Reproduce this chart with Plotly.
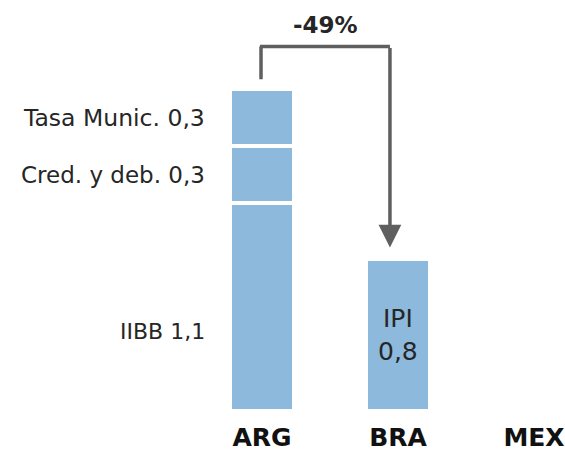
import plotly.graph_objects as go

# ---- data ----
categories = ["ARG", "BRA", "MEX"]
iibb = [1.1, None, None]
cred_deb = [0.3, None, None]
tasa_munic = [0.3, None, None]
ipi = [None, 0.8, None]
seg_labels = ["IIBB 1,1", "Cred. y deb. 0,3", "Tasa Munic. 0,3"]
ipi_label = "IPI<br>0,8"
change_label = "-49%"

BAR = "#8DB9DC"
TXT = "#262626"
LINE = "#5f5f5f"
FONT = "DejaVu Sans"

fig = go.Figure()
for vals in [iibb, cred_deb, tasa_munic, ipi]:
    fig.add_trace(go.Bar(
        x=categories, y=vals, width=0.467,
        marker=dict(color=BAR, line=dict(color="white", width=3.5)),
        hoverinfo="skip", showlegend=False,
    ))

# left-side segment labels (ARG)
arg_bases = [0, iibb[0], iibb[0] + cred_deb[0]]
arg_vals = [iibb[0], cred_deb[0], tasa_munic[0]]
offsets = [-0.13, 0.0, 0.0]
sizes = [22, 23, 23.5]
for lab, b, v, off, s in zip(seg_labels, arg_bases, arg_vals, offsets, sizes):
    fig.add_annotation(x=-0.404, y=b + v / 2 + off, xref="x", yref="y",
                       text=lab, showarrow=False, xanchor="right", yanchor="middle",
                       font=dict(family=FONT, size=s, color=TXT))

# IPI label inside BRA bar
fig.add_annotation(x=1, y=ipi[1] / 2, xref="x", yref="y", text=ipi_label,
                   showarrow=False, xanchor="center", yanchor="middle",
                   font=dict(family=FONT, size=25, color=TXT))

# bracket + arrow
arg_top = sum(arg_vals)
y_top = 1.927
x_left = -0.007
x_right = 0.941
fig.add_shape(type="line", xref="x", yref="y", x0=x_left, x1=x_left,
              y0=arg_top + 0.054, y1=y_top, line=dict(color=LINE, width=3.5))
fig.add_shape(type="line", xref="x", yref="y", x0=x_left - 0.008, x1=x_right,
              y0=y_top, y1=y_top, line=dict(color=LINE, width=3.5))
fig.add_annotation(x=x_right, y=ipi[1] + 0.064, ax=x_right, ay=y_top,
                   xref="x", yref="y", axref="x", ayref="y", text="",
                   showarrow=True, arrowhead=2, arrowsize=1.3, arrowwidth=3.5,
                   arrowcolor=LINE)
fig.add_annotation(x=(x_left + x_right) / 2, y=2.04, xref="x", yref="y",
                   text="<b>" + change_label + "</b>", showarrow=False,
                   xanchor="center", yanchor="middle",
                   font=dict(family=FONT, size=23, color=TXT))

fig.update_layout(
    width=565, height=452,
    margin=dict(l=0, r=0, t=0, b=37),
    paper_bgcolor="white", plot_bgcolor="white",
    barmode="stack",
    xaxis=dict(range=[-1.926, 2.228], showgrid=False, zeroline=False,
               showline=False, ticks="", ticklabelstandoff=9,
               tickfont=dict(family=FONT, size=25, color="#111", weight="bold")),
    yaxis=dict(range=[0, 2.173], visible=False),
)

# remove the browser's default page margin / scrollbars so the figure fills the window
fig.write_html("out.html",
               config={"displayModeBar": False, "staticPlot": True},
               post_script="document.documentElement.style.overflow='hidden';"
                           "document.body.style.margin='0';"
                           "document.body.style.overflow='hidden';")
